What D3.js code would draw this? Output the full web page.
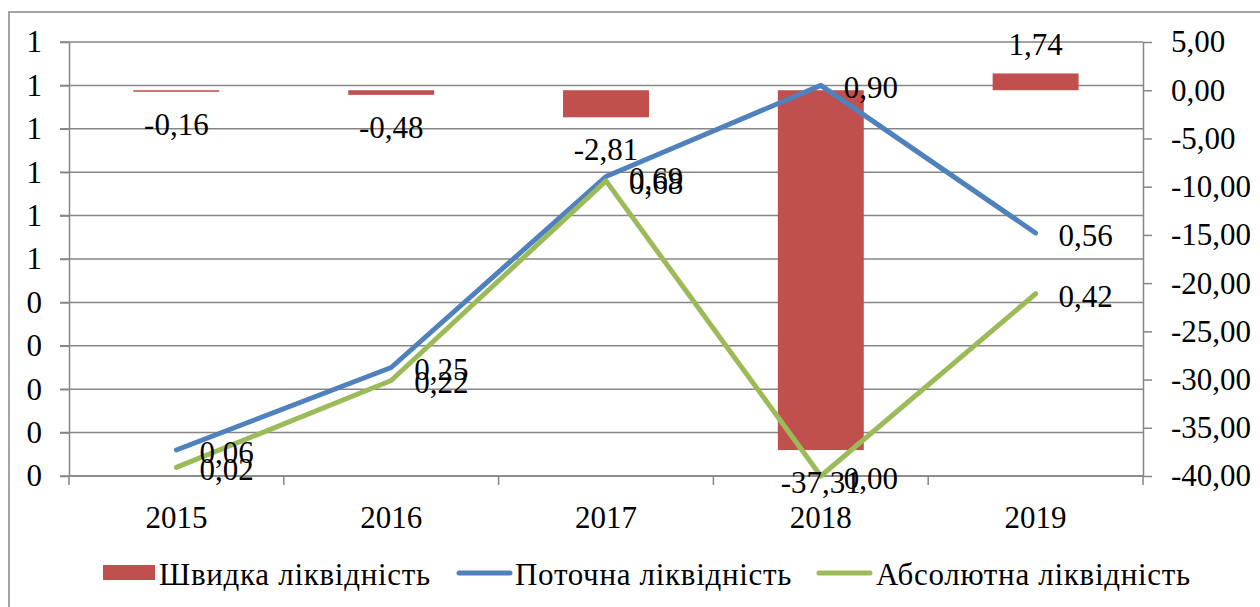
<!DOCTYPE html>
<html>
<head>
<meta charset="utf-8">
<script src="https://cdn.jsdelivr.net/npm/d3@7"></script>
<style>
  body { margin: 0; background: #fff; }
  .grid line, .axis path, .axis line { stroke: #868686; stroke-width: 1.5; }
</style>
</head>
<body>
<script>
//chart data
var years = ["2015", "2016", "2017", "2018", "2019"];
var quickLiq = [-0.16, -0.48, -2.81, -37.31, 1.74];   //bars, right axis
var currentLiq = [0.06, 0.25, 0.69, 0.90, 0.56];      //blue line, left axis
var absoluteLiq = [0.02, 0.22, 0.68, 0.00, 0.42];     //green line, left axis
var leftTicks = [0, 0.1, 0.2, 0.3, 0.4, 0.5, 0.6, 0.7, 0.8, 0.9, 1];
var rightTicks = [5, 0, -5, -10, -15, -20, -25, -30, -35, -40];
var seriesNames = ["Швидка ліквідність", "Поточна ліквідність", "Абсолютна ліквідність"];

var colors = {quick: "#C0504D", current: "#4F81BD", absolute: "#9BBB59"};
var fontFamily = "'Liberation Serif'";

var width = 1260, height = 607;
var plot = {left: 69, right: 1143, top: 42, bottom: 476};

//comma decimal, plain hyphen minus
var locale = d3.formatLocale({decimal: ",", thousands: " ", grouping: [3], currency: ["", ""], minus: "-"});
var fmt2 = locale.format(".2f");
var fmt0 = locale.format(".0f");

var svg = d3.select("body")
    .append("svg")
    .attr("width", width)
    .attr("height", height)
    .attr("font-family", fontFamily)
    .attr("font-size", 31);

//outer frame
svg.append("rect")
    .attr("x", 9).attr("y", 12)
    .attr("width", 1270).attr("height", 620)
    .attr("fill", "none")
    .attr("stroke", "#868686")
    .attr("stroke-width", 1.5);

var x = d3.scaleBand()
    .domain(years)
    .range([plot.left, plot.right]);

var yLeft = d3.scaleLinear()
    .domain([0, 1])
    .range([plot.bottom, plot.top]);

var yRight = d3.scaleLinear()
    .domain([-40, 5])
    .range([plot.bottom, plot.top]);

//gridlines with left ticks
svg.append("g")
    .attr("class", "grid")
    .selectAll("line")
    .data(leftTicks)
    .enter()
    .append("line")
    .attr("x1", plot.left - 9)
    .attr("x2", plot.right)
    .attr("y1", function(d){ return yLeft(d); })
    .attr("y2", function(d){ return yLeft(d); });

//left axis
svg.append("g")
    .attr("class", "axis")
    .attr("transform", "translate(" + plot.left + ",0)")
    .call(d3.axisLeft(yLeft).tickValues(leftTicks).tickSize(9).tickSizeOuter(0).tickPadding(18).tickFormat(fmt0));

//right axis
svg.append("g")
    .attr("class", "axis")
    .attr("transform", "translate(" + plot.right + ",0)")
    .call(d3.axisRight(yRight).tickValues(rightTicks).tickSize(9).tickSizeOuter(0).tickPadding(19).tickFormat(fmt2));

//x axis with ticks at category boundaries
var xAxis = svg.append("g")
    .attr("class", "axis")
    .attr("transform", "translate(0," + plot.bottom + ")")
    .call(d3.axisBottom(x).tickSize(0).tickPadding(30));
xAxis.select(".domain").remove();
xAxis.append("line")
    .attr("x1", plot.left).attr("x2", plot.right)
    .attr("y1", 0).attr("y2", 0);
xAxis.selectAll(".bound")
    .data(years.concat(["end"]))
    .enter()
    .append("line")
    .attr("class", "bound")
    .attr("x1", function(d, i){ return plot.left + i * x.step(); })
    .attr("x2", function(d, i){ return plot.left + i * x.step(); })
    .attr("y1", 0)
    .attr("y2", 9);
xAxis.selectAll("text").attr("dy", "0.71em");

//d3 axes set their own font, so reset it
svg.selectAll(".axis")
    .attr("font-family", fontFamily)
    .attr("font-size", 31);
svg.selectAll(".axis text").attr("fill", "#000");

//bars
var barW = x.bandwidth() * 0.4;
svg.selectAll(".bar")
    .data(quickLiq)
    .enter()
    .append("rect")
    .attr("class", "bar")
    .attr("x", function(d, i){ return x(years[i]) + (x.bandwidth() - barW) / 2; })
    .attr("width", barW)
    .attr("y", function(d){ return yRight(Math.max(0, d)); })
    .attr("height", function(d){ return Math.max(1.5, Math.abs(yRight(d) - yRight(0))); })
    .attr("fill", colors.quick);

//lines
function cx(i){ return x(years[i]) + x.bandwidth() / 2; }
var line = d3.line()
    .x(function(d, i){ return cx(i); })
    .y(function(d){ return yLeft(d); });

[[currentLiq, colors.current], [absoluteLiq, colors.absolute]].forEach(function(s){
    svg.append("path")
        .datum(s[0])
        .attr("d", line)
        .attr("fill", "none")
        .attr("stroke", s[1])
        .attr("stroke-width", 5)
        .attr("stroke-linejoin", "round")
        .attr("stroke-linecap", "round");
});

//bar labels
svg.selectAll(".barLabel")
    .data(quickLiq)
    .enter()
    .append("text")
    .attr("class", "barLabel")
    .attr("text-anchor", "middle")
    .attr("dy", "0.35em")
    .attr("x", function(d, i){ return cx(i); })
    .attr("y", function(d){ return d < 0 ? yRight(d) + 32 : yRight(d) - 29; })
    .text(function(d){ return fmt2(d); });

//line labels, right of point
[currentLiq, absoluteLiq].forEach(function(s){
    svg.selectAll(null)
        .data(s)
        .enter()
        .append("text")
        .attr("x", function(d, i){ return cx(i) + 23; })
        .attr("y", function(d){ return yLeft(d) + 2; })
        .attr("dy", "0.35em")
        .text(function(d){ return fmt2(d); });
});

//legend
var legend = svg.append("g");
legend.append("rect")
    .attr("x", 103).attr("y", 565)
    .attr("width", 52).attr("height", 15)
    .attr("fill", colors.quick);
legend.append("line")
    .attr("x1", 459).attr("x2", 510)
    .attr("y1", 573).attr("y2", 573)
    .attr("stroke", colors.current).attr("stroke-width", 5).attr("stroke-linecap", "round");
legend.append("line")
    .attr("x1", 819).attr("x2", 870)
    .attr("y1", 573).attr("y2", 573)
    .attr("stroke", colors.absolute).attr("stroke-width", 5).attr("stroke-linecap", "round");
var legendX = [159, 515, 876];
legend.selectAll("text")
    .data(seriesNames)
    .enter()
    .append("text")
    .attr("x", function(d, i){ return legendX[i]; })
    .attr("y", 585)
    .attr("letter-spacing", 0.7)
    .text(function(d){ return d; });
</script>
</body>
</html>
